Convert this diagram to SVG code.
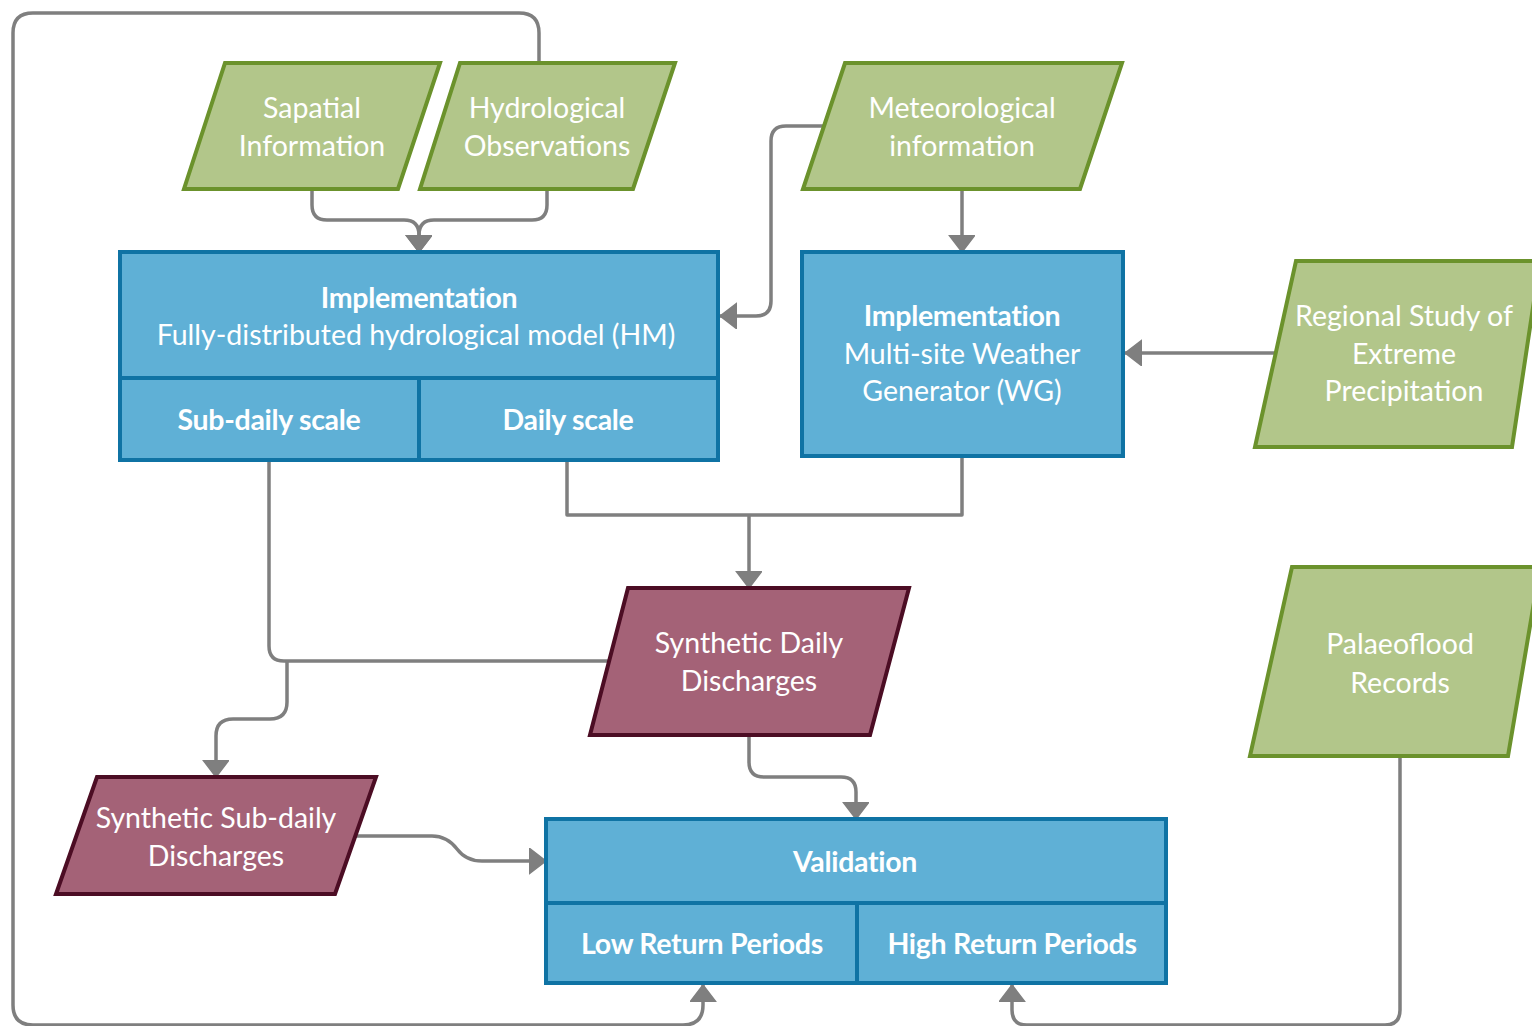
<svg xmlns="http://www.w3.org/2000/svg" width="1532" height="1026" viewBox="0 0 1532 1026">
<style>
.g{fill:#b2c68a;stroke:#6b922c;stroke-width:4;stroke-linejoin:miter}
.b{fill:#5fb0d6;stroke:#0f73a4;stroke-width:4}
.m{fill:#a46277;stroke:#4c0d24;stroke-width:4}
.t{font-family:Lato,"Open Sans","Liberation Sans",sans-serif;font-size:28.5px;fill:#ffffff;text-anchor:middle}
.tb{font-family:Lato,"Open Sans","Liberation Sans",sans-serif;font-size:28.5px;fill:#ffffff;text-anchor:middle;font-weight:bold;letter-spacing:-0.3px}
.c{fill:none;stroke:#7f7f7f;stroke-width:3.5;stroke-linejoin:round}
</style>
<defs>
<marker id="ar" markerUnits="userSpaceOnUse" markerWidth="20" markerHeight="28" refX="17" refY="13" orient="auto">
<path d="M0,0 L17,13 L0,26 z" fill="#7f7f7f" stroke="#7f7f7f" stroke-width="1.5" stroke-linejoin="round"/>
</marker>
</defs>
<rect width="1532" height="1026" fill="#ffffff"/>
<g id="connectors">
<path class="c" d="M539,63 V33 Q539,13 519,13 H33 Q13,13 13,33 V1005 Q13,1025 33,1025 H683 Q703,1025 703,1005 V985" marker-end="url(#ar)"/>
<path class="c" d="M312,189 V205 Q312,220 327,220 H404 Q419,220 419,235 V252" marker-end="url(#ar)"/>
<path class="c" d="M547,189 V205 Q547,220 532,220 H434 Q419,220 419,235 V252" marker-end="url(#ar)"/>
<path class="c" d="M823,126 H786 Q771,126 771,141 V301 Q771,316 756,316 H720" marker-end="url(#ar)"/>
<path class="c" d="M962,189 V252" marker-end="url(#ar)"/>
<path class="c" d="M1275,353 H1125" marker-end="url(#ar)"/>
<path class="c" d="M567,460 V515 H962 V456"/>
<path class="c" d="M749,515 V588" marker-end="url(#ar)"/>
<path class="c" d="M269,460 V646 Q269,661 284,661 H610"/>
<path class="c" d="M287,661 V702 Q287,719 270,719 H233 Q216,719 216,736 V777" marker-end="url(#ar)"/>
<path class="c" d="M749,735 V762 Q749,777 764,777 H841 Q856,777 856,792 V819" marker-end="url(#ar)"/>
<path class="c" d="M354,836 H432 Q447,836 457,849 Q466,861 482,861 H546" marker-end="url(#ar)"/>
<path class="c" d="M1400,756 V1010 Q1400,1025 1385,1025 H1027 Q1012,1025 1012,1010 V985" marker-end="url(#ar)"/>
</g>
<g id="sapatial">
<polygon class="g" points="225,63 440,63 398,189 184,189"/>
<text class="t" x="312" y="118">Sapatial</text>
<text class="t" x="312" y="156">Information</text>
</g>
<g id="hydrological">
<polygon class="g" points="460,63 675,63 633,189 420,189"/>
<text class="t" x="547" y="118">Hydrological</text>
<text class="t" x="547" y="156">Observations</text>
</g>
<g id="meteorological">
<polygon class="g" points="845,63 1122,63 1080,189 803,189"/>
<text class="t" x="962" y="118">Meteorological</text>
<text class="t" x="962" y="156">information</text>
</g>
<g id="hm">
<rect class="b" x="120" y="252" width="598" height="126"/>
<rect class="b" x="120" y="378" width="299" height="82"/>
<rect class="b" x="419" y="378" width="299" height="82"/>
<text class="tb" x="419" y="308">Implementation</text>
<text class="t" x="416" y="345">Fully-distributed hydrological model (HM)</text>
<text class="tb" x="269" y="430">Sub-daily scale</text>
<text class="tb" x="568" y="430">Daily scale</text>
</g>
<g id="wg">
<rect class="b" x="802" y="252" width="321" height="204"/>
<text class="tb" x="962" y="326">Implementation</text>
<text class="t" x="962" y="364">Multi-site Weather</text>
<text class="t" x="962" y="401">Generator (WG)</text>
</g>
<g id="regional">
<polygon class="g" points="1296,261 1540,261 1512,447 1255,447"/>
<text class="t" x="1404" y="326">Regional Study of</text>
<text class="t" x="1404" y="364">Extreme</text>
<text class="t" x="1404" y="401">Precipitation</text>
</g>
<g id="palaeoflood">
<polygon class="g" points="1292,567 1540,567 1508,756 1250,756"/>
<text class="t" x="1400" y="654">Palaeoflood</text>
<text class="t" x="1400" y="693">Records</text>
</g>
<g id="synthetic-daily">
<polygon class="m" points="628,588 909,588 870,735 590,735"/>
<text class="t" x="749" y="653">Synthetic Daily</text>
<text class="t" x="749" y="691">Discharges</text>
</g>
<g id="synthetic-subdaily">
<polygon class="m" points="97,777 376,777 335,894 56,894"/>
<text class="t" x="216" y="828">Synthetic Sub-daily</text>
<text class="t" x="216" y="866">Discharges</text>
</g>
<g id="validation">
<rect class="b" x="546" y="819" width="620" height="84"/>
<rect class="b" x="546" y="903" width="311" height="80"/>
<rect class="b" x="857" y="903" width="309" height="80"/>
<text class="tb" x="855" y="872">Validation</text>
<text class="tb" x="702" y="954">Low Return Periods</text>
<text class="tb" x="1012" y="954">High Return Periods</text>
</g>
</svg>
